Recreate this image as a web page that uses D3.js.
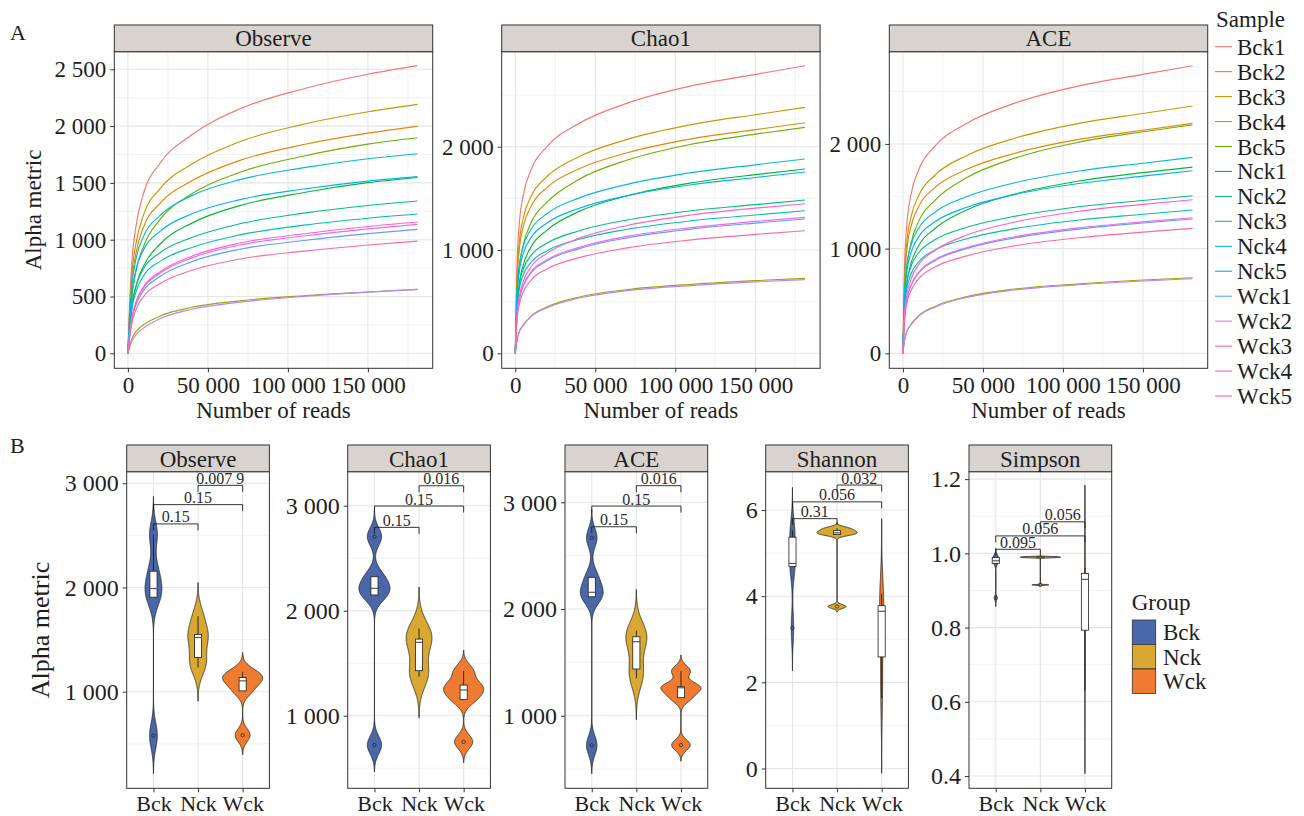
<!DOCTYPE html>
<html><head><meta charset="utf-8">
<script src="https://cdn.jsdelivr.net/npm/d3@7"></script>
<style>body{margin:0;background:#fff}svg{display:block}</style>
</head><body><svg id="c" width="1304" height="816"></svg>
<script>
// ---------------- DATA: panel A (rarefaction curves) ----------------
const samples = ["Bck1","Bck2","Bck3","Bck4","Bck5","Nck1","Nck2","Nck3","Nck4","Nck5","Wck1","Wck2","Wck3","Wck4","Wck5"];
const sampleColors = ["#F8766D","#E58700","#C99800","#A3A500","#6BB100","#00BA38","#00BF7D","#00C0AF","#00BCD8","#00B0F6","#619CFF","#B983FF","#E76BF3","#FD61D1","#FF67A4"];
const readDepths = [0,1000,2500,5000,10000,20000,40000,70000,110000,150000,181000];
const observeRarefaction = [
 [0,405,810,1114,1418,1671,1924,2152,2329,2456,2532],
 [0,320,639,879,1119,1319,1518,1698,1838,1938,1998],
 [0,351,701,964,1228,1447,1666,1863,2017,2126,2192],
 [0,62,129,191,253,327,405,462,507,540,563],
 [0,228,493,721,949,1177,1405,1594,1737,1841,1898],
 [0,186,402,588,774,960,1146,1300,1416,1502,1548],
 [0,215,429,590,751,885,1019,1140,1234,1301,1341],
 [0,196,392,539,687,809,932,1042,1128,1189,1226],
 [0,299,597,826,1037,1212,1388,1529,1634,1713,1757],
 [0,264,529,731,917,1073,1228,1353,1446,1516,1555],
 [0,142,295,425,556,676,807,916,993,1053,1091],
 [0,51,107,163,225,304,388,450,501,538,563],
 [0,148,306,443,579,704,840,953,1033,1095,1135],
 [0,150,312,451,590,717,855,971,1052,1116,1156],
 [0,128,267,385,504,613,731,830,899,953,988]
];
const chao1Rarefaction = [
 [0,835,1253,1531,1782,2004,2227,2422,2589,2700,2784],
 [0,670,1004,1228,1428,1607,1786,1942,2076,2165,2232],
 [0,714,1071,1310,1524,1714,1905,2071,2214,2310,2381],
 [0,123,211,276,363,450,545,617,668,704,726],
 [0,547,831,1050,1269,1466,1685,1871,2024,2122,2188],
 [0,446,678,856,1035,1195,1374,1525,1650,1730,1784],
 [0,445,668,816,950,1068,1187,1291,1380,1439,1484],
 [0,414,621,759,883,994,1104,1201,1283,1339,1380],
 [0,564,846,1035,1204,1354,1505,1636,1749,1825,1881],
 [0,527,790,965,1123,1264,1404,1527,1632,1702,1755],
 [0,338,520,650,780,897,1014,1118,1203,1261,1300],
 [0,121,207,271,357,442,535,606,656,692,713],
 [0,342,526,658,790,908,1026,1132,1217,1277,1316],
 [0,362,550,695,840,970,1115,1238,1339,1405,1448],
 [0,309,475,594,712,819,926,1021,1098,1151,1187]
];
const aceRarefaction = [
 [0,824,1236,1511,1758,1978,2198,2390,2555,2665,2747],
 [0,659,989,1208,1406,1582,1758,1911,2043,2131,2197],
 [0,709,1063,1299,1512,1701,1890,2055,2197,2291,2362],
 [0,123,209,274,361,448,542,614,664,700,722],
 [0,545,829,1047,1265,1461,1679,1865,2017,2116,2181],
 [0,445,676,854,1032,1192,1370,1521,1646,1726,1779],
 [0,452,677,828,963,1084,1204,1309,1400,1460,1505],
 [0,411,616,753,876,986,1095,1191,1273,1328,1369],
 [0,562,842,1030,1198,1348,1498,1629,1741,1816,1872],
 [0,523,785,959,1116,1256,1395,1517,1622,1692,1744],
 [0,334,513,642,770,885,1001,1103,1187,1245,1283],
 [0,121,206,271,356,441,534,605,655,691,712],
 [0,337,518,648,777,894,1010,1114,1198,1256,1295],
 [0,367,557,704,851,983,1130,1254,1357,1423,1467],
 [0,310,478,597,716,824,931,1027,1104,1158,1194]
];
const rarefyXTicks = [0,50000,100000,150000];
const observeYTicks = [0,500,1000,1500,2000,2500];
const chao1YTicks = [0,1000,2000];
const aceYTicks = [0,1000,2000];

// ---------------- DATA: panel B (violins) ----------------
const groups = ["Bck","Nck","Wck"];
const groupColors = ["#4A68A9","#D8A832","#EF7B31"];
const observeAlpha = [[578,1907,1990,2156,2510],[1232,1328,1520,1549,1725],[583,1008,1104,1136,1190]];
const chao1Alpha   = [[721,2150,2213,2324,2705],[1371,1429,1699,1730,1832],[752,1156,1245,1292,1426]];
const aceAlpha     = [[722,2115,2157,2297,2668],[1350,1438,1694,1740,1797],[725,1169,1262,1272,1419]];
const shannonAlpha = [[3.26,4.69,4.76,5.37,5.53],[3.76,5.43,5.47,5.52,5.58],[1.63,2.59,3.65,3.78,4.06]];
const simpsonAlpha = [[0.88,0.973,0.98,0.989,0.99],[0.915,0.9885,0.989,0.9905,0.991],[0.63,0.793,0.93,0.946,0.96]];
const comparisons = [[0,1],[0,2],[1,2]];
const observeP = ["0.15","0.15","0.007 9"];
const chao1P   = ["0.15","0.15","0.016"];
const aceP     = ["0.15","0.15","0.016"];
const shannonP = ["0.31","0.056","0.032"];
const simpsonP = ["0.095","0.056","0.056"];
const observeBracketY = [2610,2795,2980];
const chao1BracketY   = [2794,2997,3190];
const aceBracketY     = [2771,2965,3156];
const shannonBracketY = [5.80,6.19,6.58];
const simpsonBracketY = [1.011,1.047,1.085];
const observeBTicks = [1000,2000,3000];
const chao1BTicks = [1000,2000,3000];
const aceBTicks = [1000,2000,3000];
const shannonBTicks = [0,2,4,6];
const simpsonBTicks = [0.4,0.6,0.8,1.0,1.2];

// ---------------- helpers ----------------
const FONT = '"Liberation Serif","Times New Roman",Times,serif';
const TXT = "#1e1e1e";
const svg = d3.select("#c").attr("font-family", FONT);
const fmtBig = v => Math.abs(v) >= 1000 ? d3.format(",")(v).replace(/,/g, " ") : String(v);

function gridValues(ticks, domain){
  const step = ticks[1]-ticks[0];
  const lo = Math.min(domain[0],domain[1]), hi = Math.max(domain[0],domain[1]);
  const major = ticks.filter(v => v>=lo && v<=hi);
  const minor = [];
  for(let v = ticks[0]-step/2; v <= hi + 1e-9; v += step){ if(v>=lo) minor.push(+v.toFixed(6)); }
  return {major, minor};
}
function styleAxis(ax, size){
  ax.select(".domain").remove();
  ax.attr("font-family", FONT).attr("font-size", size);
  ax.selectAll("text").attr("fill", TXT);
  ax.selectAll("line").attr("stroke", "#333").attr("stroke-width", 1);
}
function strip(x0, w, top, bottom, label, base){
  svg.append("rect").attr("x",x0).attr("y",top).attr("width",w).attr("height",bottom-top)
    .attr("fill","#D9D3CF").attr("stroke","#333").attr("stroke-width",1);
  svg.append("text").attr("x",x0+w/2).attr("y",base).attr("text-anchor","middle")
    .attr("font-size",23).attr("fill",TXT).text(label);
}

// ---------------- Panel A ----------------
const A = {top:51.7, bottom:368.3, w:318.4, stripTop:25};
const xDomA = [-8500,190500];
function rarePanel(left, curves, yDomain, yTicks, title){
  const x = d3.scaleLinear().domain(xDomA).range([left, left+A.w]);
  const y = d3.scaleLinear().domain(yDomain).range([A.bottom, A.top]);
  const g = svg.append("g");
  const gx = gridValues(rarefyXTicks, xDomA), gy = gridValues(yTicks, yDomain);
  g.selectAll(".mnx").data(gx.minor).join("line").attr("x1",d=>x(d)).attr("x2",d=>x(d)).attr("y1",A.top).attr("y2",A.bottom).attr("stroke","#EEEEEE").attr("stroke-width",0.7);
  g.selectAll(".mny").data(gy.minor).join("line").attr("y1",d=>y(d)).attr("y2",d=>y(d)).attr("x1",left).attr("x2",left+A.w).attr("stroke","#EEEEEE").attr("stroke-width",0.7);
  g.selectAll(".mjx").data(gx.major).join("line").attr("x1",d=>x(d)).attr("x2",d=>x(d)).attr("y1",A.top).attr("y2",A.bottom).attr("stroke","#E5E5E5").attr("stroke-width",1.1);
  g.selectAll(".mjy").data(gy.major).join("line").attr("y1",d=>y(d)).attr("y2",d=>y(d)).attr("x1",left).attr("x2",left+A.w).attr("stroke","#E5E5E5").attr("stroke-width",1.1);
  const line = d3.line().x((d,i)=>x(readDepths[i])).y(d=>y(d)).curve(d3.curveMonotoneX);
  g.selectAll(".curve").data(curves).join("path").attr("d",d=>line(d)).attr("fill","none")
    .attr("stroke",(d,i)=>sampleColors[i]).attr("stroke-width",1.15);
  g.append("rect").attr("x",left).attr("y",A.top).attr("width",A.w).attr("height",A.bottom-A.top)
    .attr("fill","none").attr("stroke","#333").attr("stroke-width",1);
  strip(left, A.w, A.stripTop, A.top, title, 46);
  const ax = svg.append("g").attr("transform",`translate(0,${A.bottom})`)
    .call(d3.axisBottom(x).tickValues(rarefyXTicks).tickFormat(fmtBig).tickSize(4).tickPadding(4));
  styleAxis(ax, 23);
  const ay = svg.append("g").attr("transform",`translate(${left},0)`)
    .call(d3.axisLeft(y).tickValues(yTicks).tickFormat(fmtBig).tickSize(4).tickPadding(4));
  styleAxis(ay, 23);
  svg.append("text").attr("x",left+A.w/2).attr("y",418).attr("text-anchor","middle").attr("font-size",23).attr("fill",TXT).text("Number of reads");
}
rarePanel(114.3, observeRarefaction, [-132,2655], observeYTicks, "Observe");
rarePanel(501.7, chao1Rarefaction, [-145,2920], chao1YTicks, "Chao1");
rarePanel(889.3, aceRarefaction, [-143,2881], aceYTicks, "ACE");
svg.append("text").attr("transform","translate(41,210) rotate(-90)").attr("text-anchor","middle").attr("font-size",23).attr("fill",TXT).text("Alpha metric");
svg.append("text").attr("x",10).attr("y",40).attr("font-size",22).attr("fill",TXT).text("A");

// legend A
svg.append("text").attr("x",1216).attr("y",27).attr("font-size",23).attr("fill",TXT).text("Sample");
const legA = svg.append("g");
samples.forEach((s,i)=>{
  const cy = 46.7 + i*24.95;
  legA.append("line").attr("x1",1215).attr("x2",1232).attr("y1",cy).attr("y2",cy).attr("stroke",sampleColors[i]).attr("stroke-width",1.1);
  legA.append("text").attr("x",1237).attr("y",cy+8).attr("font-size",23).attr("fill",TXT).text(s);
});

// ---------------- Panel B ----------------
const B = {top:471.7, bottom:788.3, w:142.7, stripTop:445};
function kde(vals){
  const s = vals.slice().sort(d3.ascending), n = s.length;
  const q1 = d3.quantileSorted(s,0.25), q3 = d3.quantileSorted(s,0.75);
  const sd = d3.deviation(s);
  let lo = Math.min(sd, (q3-q1)/1.34); if(!(lo>0)) lo = sd || 1;
  const bw = 0.9*lo*Math.pow(n,-0.2);
  const a = s[0]-3*bw, b = s[n-1]+3*bw, pts = [];
  for(let k=0;k<512;k++){
    const v = a+(b-a)*k/511; let d = 0;
    for(const xi of s){ const z=(v-xi)/bw; d += Math.exp(-0.5*z*z); }
    pts.push({v, d: d/(n*bw*Math.sqrt(2*Math.PI))});
  }
  return pts;
}
function boxStats(vals){
  const s = vals.slice().sort(d3.ascending);
  const q1 = d3.quantileSorted(s,0.25), med = d3.quantileSorted(s,0.5), q3 = d3.quantileSorted(s,0.75);
  const iqr = q3-q1, lf = q1-1.5*iqr, hf = q3+1.5*iqr;
  const inside = s.filter(v=>v>=lf-1e-12 && v<=hf+1e-12);
  return {q1, med, q3, lo: d3.min(inside), hi: d3.max(inside), out: s.filter(v=>v<lf-1e-12 || v>hf+1e-12)};
}
function violinPanel(left, values, yDomain, yTicks, fmt, title, pLabels, pY){
  const x = d3.scalePoint().domain(groups).range([left, left+B.w]).padding(0.6);
  const step = x.step();
  const y = d3.scaleLinear().domain(yDomain).range([B.bottom, B.top]);
  const g = svg.append("g");
  const gy = gridValues(yTicks, yDomain);
  g.selectAll(".mny").data(gy.minor).join("line").attr("y1",d=>y(d)).attr("y2",d=>y(d)).attr("x1",left).attr("x2",left+B.w).attr("stroke","#EEEEEE").attr("stroke-width",0.7);
  g.selectAll(".mjy").data(gy.major).join("line").attr("y1",d=>y(d)).attr("y2",d=>y(d)).attr("x1",left).attr("x2",left+B.w).attr("stroke","#E5E5E5").attr("stroke-width",1.1);
  g.selectAll(".mjx").data(groups).join("line").attr("x1",d=>x(d)).attr("x2",d=>x(d)).attr("y1",B.top).attr("y2",B.bottom).attr("stroke","#E5E5E5").attr("stroke-width",1.1);
  const dens = values.map(kde);
  const maxD = d3.max(dens, dd => d3.max(dd, p => p.d));
  dens.forEach((dd,i)=>{
    const cx = x(groups[i]);
    const area = d3.area().y(p=>y(p.v)).x0(p=>cx - p.d/maxD*0.45*step).x1(p=>cx + p.d/maxD*0.45*step);
    g.append("path").attr("d",area(dd)).attr("fill",groupColors[i]).attr("stroke","#1e1e1e").attr("stroke-width",0.8).attr("stroke-linejoin","round");
  });
  const bw = 0.16*step;
  values.forEach((v,i)=>{
    const st = boxStats(v), cx = x(groups[i]);
    g.append("line").attr("x1",cx).attr("x2",cx).attr("y1",y(st.q3)).attr("y2",y(st.hi)).attr("stroke","#1e1e1e").attr("stroke-width",0.9);
    g.append("line").attr("x1",cx).attr("x2",cx).attr("y1",y(st.q1)).attr("y2",y(st.lo)).attr("stroke","#1e1e1e").attr("stroke-width",0.9);
    g.append("rect").attr("x",cx-bw/2).attr("width",bw).attr("y",y(st.q3)).attr("height",Math.max(0.8,y(st.q1)-y(st.q3)))
      .attr("fill","#fff").attr("stroke","#1e1e1e").attr("stroke-width",0.8);
    g.append("line").attr("x1",cx-bw/2).attr("x2",cx+bw/2).attr("y1",y(st.med)).attr("y2",y(st.med)).attr("stroke","#555").attr("stroke-width",1.2);
    st.out.forEach(o=>{
      g.append("circle").attr("cx",cx).attr("cy",y(o)).attr("r",1.7).attr("fill","none").attr("stroke","#1e1e1e").attr("stroke-width",0.7);
    });
  });
  comparisons.forEach((c,k)=>{
    const x1 = x(groups[c[0]]), x2 = x(groups[c[1]]), yy = y(pY[k]);
    g.append("path").attr("d",`M${x1},${yy+6.5}V${yy}H${x2}V${yy+6.5}`).attr("fill","none").attr("stroke","#1e1e1e").attr("stroke-width",0.9);
    g.append("text").attr("x",(x1+x2)/2).attr("y",yy-1.5).attr("text-anchor","middle").attr("font-size",16).attr("fill","#2a2a2a").text(pLabels[k]);
  });
  g.append("rect").attr("x",left).attr("y",B.top).attr("width",B.w).attr("height",B.bottom-B.top)
    .attr("fill","none").attr("stroke","#333").attr("stroke-width",1);
  strip(left, B.w, B.stripTop, B.top, title, 467);
  const ax = svg.append("g").attr("transform",`translate(0,${B.bottom})`)
    .call(d3.axisBottom(x).tickSize(4).tickPadding(3));
  styleAxis(ax, 22);
  const ay = svg.append("g").attr("transform",`translate(${left},0)`)
    .call(d3.axisLeft(y).tickValues(yTicks).tickFormat(fmt).tickSize(4).tickPadding(4));
  styleAxis(ay, 24);
}
violinPanel(126.7, observeAlpha, [73,3111], observeBTicks, fmtBig, "Observe", observeP, observeBracketY);
violinPanel(347.7, chao1Alpha, [309,3324], chao1BTicks, fmtBig, "Chao1", chao1P, chao1BracketY);
violinPanel(565, aceAlpha, [320,3287], aceBTicks, fmtBig, "ACE", aceP, aceBracketY);
violinPanel(765.7, shannonAlpha, [-0.46,6.89], shannonBTicks, d3.format("d"), "Shannon", shannonP, shannonBracketY);
violinPanel(969, simpsonAlpha, [0.367,1.22], simpsonBTicks, d3.format(".1f"), "Simpson", simpsonP, simpsonBracketY);
svg.append("text").attr("transform","translate(49,630) rotate(-90)").attr("text-anchor","middle").attr("font-size",26).attr("fill",TXT).text("Alpha metric");
svg.append("text").attr("x",10).attr("y",453).attr("font-size",22).attr("fill",TXT).text("B");

// legend B
svg.append("text").attr("x",1131.7).attr("y",610).attr("font-size",23).attr("fill",TXT).text("Group");
groups.forEach((gname,i)=>{
  const y0 = 620 + i*24.5;
  svg.append("rect").attr("x",1132.3).attr("y",y0).attr("width",23.4).attr("height",24.5)
    .attr("fill",groupColors[i]).attr("stroke","#333").attr("stroke-width",0.8);
  svg.append("text").attr("x",1163).attr("y",y0+20).attr("font-size",23).attr("fill",TXT).text(gname);
});
</script></body></html>
